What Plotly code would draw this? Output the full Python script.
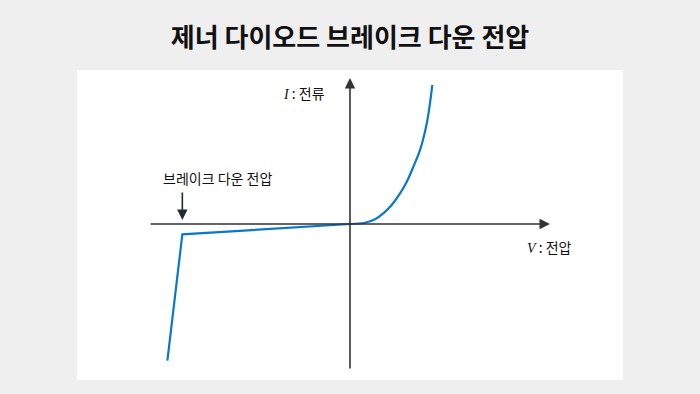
import plotly.graph_objects as go

# Reverse-bias segment (breakdown) — straight lines
V_reverse = [-10.87, -9.98, 0.0]
I_reverse = [-9.76, -0.74, 0.0]
# Forward-bias segment (exponential rise)
V_forward = [0.0, 0.89, 1.49, 1.98, 2.48, 2.98, 3.38, 3.77, 4.17, 4.57, 4.76, 4.90]
I_forward = [0.0, 0.09, 0.34, 0.76, 1.36, 2.19, 3.02, 4.09, 5.29, 7.19, 8.62, 9.93]

# Axis extents
x_axis_span = [-11.96, 11.9]
y_axis_span = [-10.43, 10.43]

title_text = "제너 다이오드 브레이크 다운 전압"
breakdown_label = "브레이크 다운 전압"
breakdown_V = -9.98

AXIS_COLOR = "#333333"
CURVE_COLOR = "#0a78c8"
KR = "Noto Sans CJK KR"

fig = go.Figure()
fig.add_trace(go.Scatter(
    x=V_reverse, y=I_reverse, mode="lines",
    line=dict(color=CURVE_COLOR, width=2.2),
    hoverinfo="skip", showlegend=False,
))
fig.add_trace(go.Scatter(
    x=V_forward, y=I_forward, mode="lines",
    line=dict(color=CURVE_COLOR, width=2.2, shape="spline", smoothing=1.0),
    hoverinfo="skip", showlegend=False,
))

anns = []
# horizontal axis arrow
anns.append(dict(x=x_axis_span[1], y=0, ax=x_axis_span[0], ay=0,
                 xref="x", yref="y", axref="x", ayref="y", text="",
                 showarrow=True, arrowhead=2, arrowsize=1.3, arrowwidth=1.6,
                 arrowcolor=AXIS_COLOR, standoff=0, startstandoff=0))
# vertical axis arrow
anns.append(dict(x=0, y=y_axis_span[1], ax=0, ay=y_axis_span[0],
                 xref="x", yref="y", axref="x", ayref="y", text="",
                 showarrow=True, arrowhead=2, arrowsize=1.3, arrowwidth=1.6,
                 arrowcolor=AXIS_COLOR, standoff=0, startstandoff=0))
# breakdown arrow
anns.append(dict(x=breakdown_V, y=0.29, ax=breakdown_V, ay=2.36,
                 xref="x", yref="y", axref="x", ayref="y", text="",
                 showarrow=True, arrowhead=2, arrowsize=1.3, arrowwidth=1.6,
                 arrowcolor="#222a35", standoff=0))
anns.append(dict(x=-7.86, y=3.29, xref="x", yref="y", text=breakdown_label,
                 showarrow=False, font=dict(family=KR, size=14, color="#111111"),
                 xanchor="center", yanchor="middle"))
anns.append(dict(x=-2.74, y=9.36, xref="x", yref="y",
                 text="<span style='font-family:Liberation Serif'><i>I</i></span> : 전류",
                 showarrow=False, font=dict(family=KR, size=14, color="#111111"),
                 xanchor="center", yanchor="middle"))
anns.append(dict(x=11.9, y=-1.64, xref="x", yref="y",
                 text="<span style='font-family:Liberation Serif'><i>V</i></span> : 전압",
                 showarrow=False, font=dict(family=KR, size=14, color="#111111"),
                 xanchor="center", yanchor="middle"))

fig.update_layout(
    width=700, height=394,
    margin=dict(l=77, r=77, t=70, b=14, pad=0),
    paper_bgcolor="#efefef", plot_bgcolor="#ffffff",
    title=dict(text=f"<b>{title_text}</b>", x=0.5, xanchor="center",
               y=1 - 38 / 394, yanchor="middle", yref="container",
               font=dict(family=KR, size=26, color="#111111")),
    xaxis=dict(range=[-16.25, 16.25], visible=False, fixedrange=True),
    yaxis=dict(range=[-11.14, 11.0], visible=False, fixedrange=True),
    annotations=anns,
    showlegend=False,
)

fig.write_html("out.html")
